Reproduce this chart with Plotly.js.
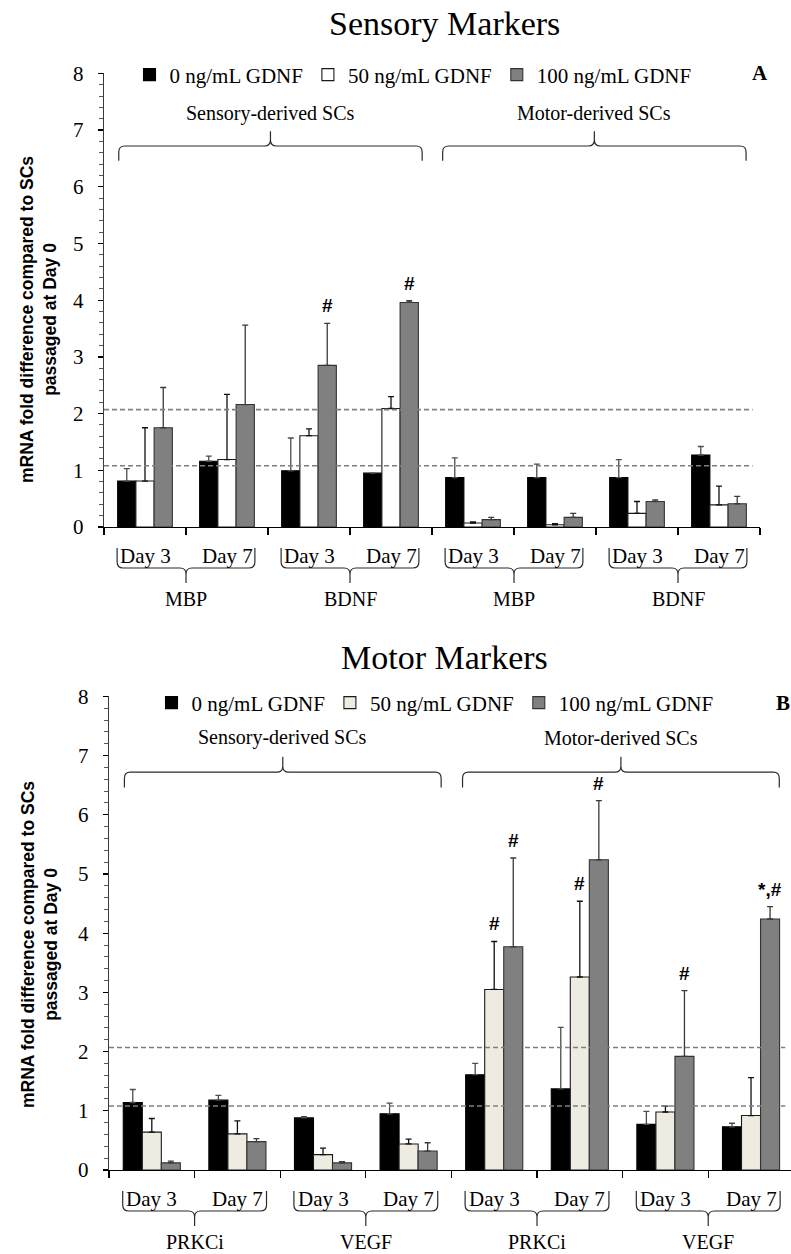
<!DOCTYPE html>
<html>
<head>
<meta charset="utf-8">
<script src="https://cdn.plot.ly/plotly-3.0.1.min.js"></script>
<style>
  html, body { margin: 0; padding: 0; background: #ffffff; }
  #chart { width: 791px; height: 1254px; }
</style>
</head>
<body>
<div id="chart"></div>
<script>
// ---- Category structure -------------------------------------------------
const dayLabels = ['Day 3', 'Day 7', 'Day 3', 'Day 7', 'Day 3', 'Day 7', 'Day 3', 'Day 7'];
const sensoryGenes = ['MBP', 'BDNF', 'MBP', 'BDNF'];
const motorGenes = ['PRKCi', 'VEGF', 'PRKCi', 'VEGF'];
const cellOrigins = ['Sensory-derived SCs', 'Motor-derived SCs'];
const doseLabels = ['0 ng/mL GDNF', '50 ng/mL GDNF', '100 ng/mL GDNF'];

// ---- Panel A: sensory markers (mean fold change and SD) -----------------
const sensoryMean0   = [0.81, 1.16, 0.99, 0.95, 0.87, 0.87, 0.87, 1.27];
const sensorySd0     = [0.22, 0.09, 0.58, 0.00, 0.35, 0.24, 0.32, 0.15];
const sensoryMean50  = [0.81, 1.19, 1.61, 2.09, 0.07, 0.04, 0.24, 0.39];
const sensorySd50    = [0.94, 1.15, 0.12, 0.21, 0.02, 0.02, 0.21, 0.33];
const sensoryMean100 = [1.75, 2.16, 2.85, 3.96, 0.13, 0.17, 0.45, 0.41];
const sensorySd100   = [0.71, 1.40, 0.74, 0.03, 0.04, 0.07, 0.03, 0.13];
const sensorySig = [
  { cat: 2, dose: 2, text: '#' },
  { cat: 3, dose: 2, text: '#' }
];

// ---- Panel B: motor markers ---------------------------------------------
const motorMean0   = [1.14, 1.18, 0.88, 0.95, 1.61, 1.37, 0.77, 0.73];
const motorSd0     = [0.22, 0.08, 0.02, 0.18, 0.19, 1.04, 0.22, 0.06];
const motorMean50  = [0.64, 0.61, 0.26, 0.44, 3.05, 3.26, 0.98, 0.92];
const motorSd50    = [0.23, 0.22, 0.11, 0.08, 0.81, 1.28, 0.10, 0.64];
const motorMean100 = [0.12, 0.48, 0.12, 0.32, 3.77, 5.24, 1.92, 4.24];
const motorSd100   = [0.03, 0.05, 0.02, 0.14, 1.50, 1.00, 1.11, 0.21];
const motorSig = [
  { cat: 4, dose: 1, text: '#' },
  { cat: 4, dose: 2, text: '#' },
  { cat: 5, dose: 1, text: '#' },
  { cat: 5, dose: 2, text: '#' },
  { cat: 6, dose: 2, text: '#' },
  { cat: 7, dose: 2, text: '*,#' }
];

// Reference fold-change levels drawn as dashed lines
const referenceLevels = [2.07, 1.08];

// ---- Figure geometry (pixels) -------------------------------------------
const W = 791, H = 1254;
const SERIF = 'Liberation Serif, Times New Roman, serif';
const SANS = 'Liberation Sans, Arial, sans-serif';

const panels = [
  { key: '', x0: 104, x1: 760, y0: 527, y1: 73.4, xr: [-0.5, 7.5],
    means: [sensoryMean0, sensoryMean50, sensoryMean100],
    sds: [sensorySd0, sensorySd50, sensorySd100],
    genes: sensoryGenes, sig: sensorySig,
    colors: ['#000000', '#ffffff', '#808080'],
    title: 'Sensory Markers', titleY: 24, letter: 'A', letterX: 760, letterY: 73,
    legend: 'legend', legendX: 413, legendY: 75, dashEnd: 7.41, yTitleY: 320 },
  { key: '2', x0: 109, x1: 791, y0: 1170, y1: 696.4, xr: [-0.5, 7.467],
    means: [motorMean0, motorMean50, motorMean100],
    sds: [motorSd0, motorSd50, motorSd100],
    genes: motorGenes, sig: motorSig,
    colors: ['#000000', '#eeece1', '#808080'],
    title: 'Motor Markers', titleY: 657, letter: 'B', letterX: 783, letterY: 703,
    legend: 'legend2', legendX: 435, legendY: 703, dashEnd: 7.40, yTitleY: 945 }
];

const BARGAP = 0.333;
const barW = (1 - BARGAP) / 3;

// pixel helpers
function xToPx(p, v) { return p.x0 + (v - p.xr[0]) / (p.xr[1] - p.xr[0]) * (p.x1 - p.x0); }
function yToPx(p, v) { return p.y0 - v / 8 * (p.y0 - p.y1); }
function pt(x, y) { return (x / W).toFixed(5) + ',' + (1 - y / H).toFixed(5); }

// curly brace; ends point toward yEnd, spike points the other way
function bracePath(xa, xb, yLine, yEnd, tip) {
  const s = Math.sign(yEnd - yLine);
  const r = 6;
  const xc = (xa + xb) / 2;
  const yTip = yLine - s * tip;
  return 'M' + pt(xa, yEnd) +
    ' L' + pt(xa, yLine + s * r) +
    ' Q' + pt(xa, yLine) + ' ' + pt(xa + r, yLine) +
    ' L' + pt(xc - r, yLine) +
    ' Q' + pt(xc, yLine) + ' ' + pt(xc, yLine - s * r) +
    ' L' + pt(xc, yTip) +
    ' M' + pt(xc, yLine - s * r) +
    ' Q' + pt(xc, yLine) + ' ' + pt(xc + r, yLine) +
    ' L' + pt(xb - r, yLine) +
    ' Q' + pt(xb, yLine) + ' ' + pt(xb, yLine + s * r) +
    ' L' + pt(xb, yEnd);
}

const traces = [];
const shapes = [];
const annotations = [];
const layout = {
  width: W, height: H,
  margin: { l: 0, r: 0, t: 0, b: 0 },
  paper_bgcolor: '#ffffff', plot_bgcolor: 'rgba(0,0,0,0)',
  barmode: 'group', bargap: BARGAP, bargroupgap: 0,
  font: { family: SERIF, color: '#000000' },
  showlegend: true
};

const errColors = ['#4d4d4d', '#111111', '#3a3a3a'];
const lineColors = ['#000000', '#1a1a1a', '#333333'];

panels.forEach((p) => {
  const xa = 'x' + p.key, ya = 'y' + p.key;
  const catIdx = dayLabels.map((_, i) => i);

  // bars
  for (let d = 0; d < 3; d++) {
    traces.push({
      type: 'bar', name: doseLabels[d], x: catIdx, y: p.means[d],
      xaxis: xa, yaxis: ya, legend: p.legend,
      marker: { color: p.colors[d], line: { color: lineColors[d], width: 1.1 } },
      error_y: { type: 'data', array: p.sds[d], symmetric: false,
                 arrayminus: p.sds[d].map(() => 0),
                 color: errColors[d], thickness: 1.3, width: 3 },
      hoverinfo: 'skip'
    });
  }

  // axes
  layout['xaxis' + p.key] = {
    domain: [p.x0 / W, Math.min(1, p.x1 / W)], range: p.xr, anchor: ya,
    showgrid: false, zeroline: false, showline: true, linecolor: '#000000', linewidth: 1.3,
    ticks: 'outside', ticklen: 7, tickwidth: 1.2, tickcolor: '#000000',
    tickvals: [-0.5, 0.5, 1.5, 2.5, 3.5, 4.5, 5.5, 6.5, 7.5], showticklabels: false, fixedrange: true
  };
  layout['yaxis' + p.key] = {
    domain: [1 - p.y0 / H, 1 - p.y1 / H], range: [0, 8], anchor: xa,
    showgrid: false, zeroline: false, showline: true, linecolor: '#3a3a3a', linewidth: 1.2,
    ticks: 'outside', ticklen: 5, tickwidth: 1.3, tickcolor: '#000000', dtick: 1,
    ticklabelstandoff: 10,
    tickfont: { family: SERIF, size: 21, color: '#000000' },
    minor: { dtick: 0.2, ticks: 'outside', ticklen: 4, tickwidth: 1, tickcolor: '#555555' },
    fixedrange: true
  };

  // legend
  layout[p.legend] = {
    orientation: 'h', x: p.legendX / W, xanchor: 'center', y: 1 - p.legendY / H, yanchor: 'middle',
    font: { family: SERIF, size: 21, color: '#000000' }, bgcolor: 'rgba(0,0,0,0)',
    itemwidth: 30, traceorder: 'normal', itemclick: false, itemdoubleclick: false
  };

  // dashed reference levels
  referenceLevels.forEach((lv) => {
    shapes.push({ type: 'line', xref: xa, yref: ya, x0: p.xr[0], x1: p.dashEnd, y0: lv, y1: lv,
      line: { color: '#7f7f7f', width: 1.6, dash: '5px,3px' } });
  });

  // braces above the two cell-origin halves
  const spans = [[-0.32, 3.38], [3.63, 7.33]];
  spans.forEach((sp, k) => {
    const xa0 = xToPx(p, sp[0]), xb0 = xToPx(p, sp[1]);
    shapes.push({ type: 'path', xref: 'paper', yref: 'paper',
      path: bracePath(xa0, xb0, yToPx(p, 6.72), yToPx(p, 6.46), yToPx(p, 6.72) - yToPx(p, 6.98)),
      line: { color: '#2b2b2b', width: 1.2 } });
    annotations.push({ xref: xa, yref: ya, x: (sp[0] + sp[1]) / 2, y: 7.3,
      text: cellOrigins[k], showarrow: false, xanchor: 'center', yanchor: 'middle',
      font: { family: SERIF, size: 20, color: '#000000' } });
  });

  // category labels and braces under the axis
  dayLabels.forEach((lab, i) => {
    annotations.push({ xref: xa, yref: 'paper', x: i, y: 1 - (p.y0 + 29) / H,
      text: lab, showarrow: false, xanchor: 'center', yanchor: 'middle',
      font: { family: SERIF, size: 21, color: '#000000' } });
  });
  p.genes.forEach((g, k) => {
    const c = 2 * k + 0.5;
    const xa0 = xToPx(p, c - 0.84), xb0 = xToPx(p, c + 0.84);
    shapes.push({ type: 'path', xref: 'paper', yref: 'paper',
      path: bracePath(xa0, xb0, p.y0 + 41, p.y0 + 21, 15),
      line: { color: '#2b2b2b', width: 1.2 } });
    annotations.push({ xref: xa, yref: 'paper', x: c, y: 1 - (p.y0 + 72) / H,
      text: g, showarrow: false, xanchor: 'center', yanchor: 'middle',
      font: { family: SERIF, size: 20, color: '#000000' } });
  });

  // significance marks above error bars
  p.sig.forEach((s) => {
    annotations.push({ xref: xa, yref: ya, x: s.cat + (s.dose - 1) * barW,
      y: p.means[s.dose][s.cat] + p.sds[s.dose][s.cat],
      text: s.text, showarrow: false, xanchor: 'center', yanchor: 'bottom', yshift: 5,
      font: { family: SANS, size: 19, color: '#000000', weight: 'bold' } });
  });

  // panel title and letter
  annotations.push({ xref: 'paper', yref: 'paper', x: 444 / W, y: 1 - p.titleY / H,
    text: p.title, showarrow: false, xanchor: 'center', yanchor: 'middle',
    font: { family: SERIF, size: 34, color: '#000000' } });
  annotations.push({ xref: 'paper', yref: 'paper', x: p.letterX / W, y: 1 - p.letterY / H,
    text: '<b>' + p.letter + '</b>', showarrow: false, xanchor: 'center', yanchor: 'middle',
    font: { family: SERIF, size: 21, color: '#000000' } });

  // y-axis title
  annotations.push({ xref: 'paper', yref: 'paper', x: 39 / W, y: 1 - p.yTitleY / H,
    text: '<b>mRNA fold difference compared to SCs<br>passaged at Day 0</b>',
    textangle: -90, showarrow: false, xanchor: 'center', yanchor: 'middle',
    font: { family: SANS, size: 17.5, color: '#000000' } });
});

layout.shapes = shapes;
layout.annotations = annotations;

Plotly.newPlot('chart', traces, layout, { displayModeBar: false, staticPlot: true });
</script>
</body>
</html>
